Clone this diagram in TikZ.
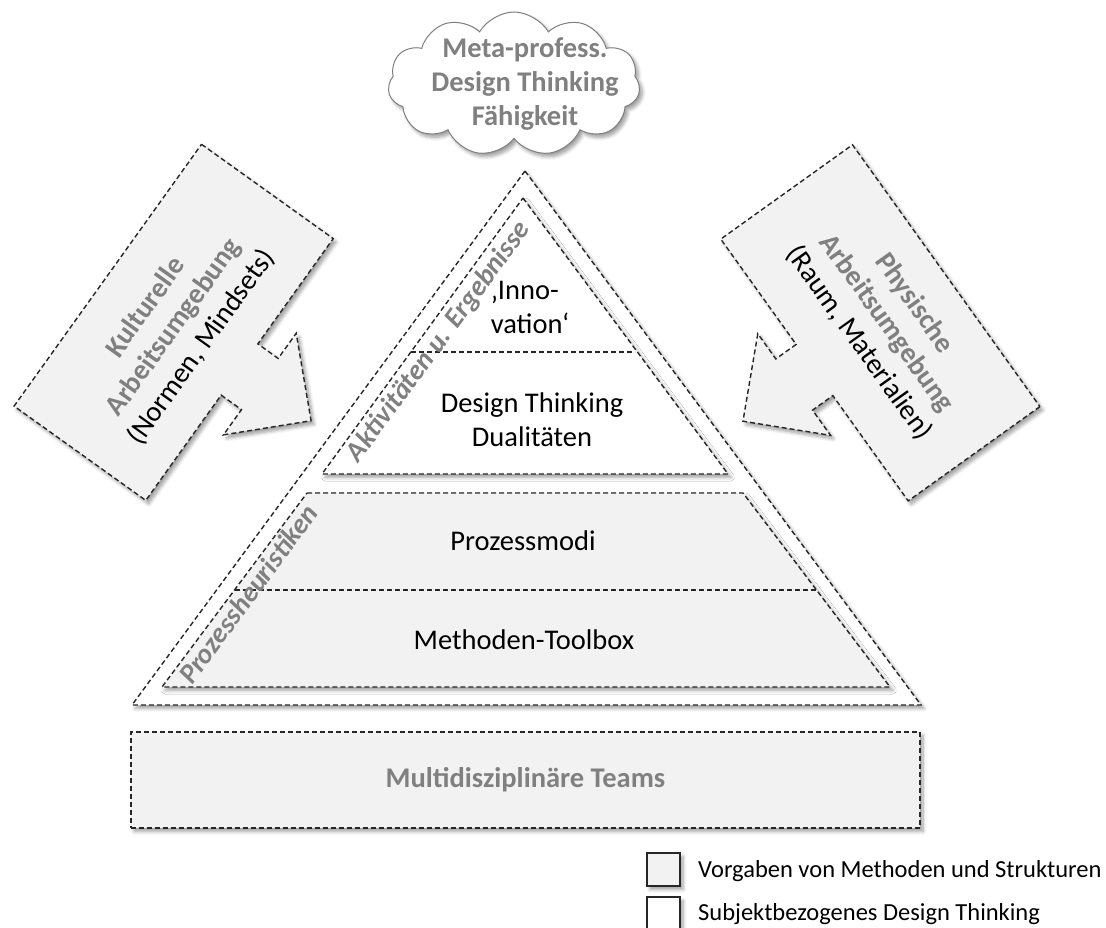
\documentclass[tikz,border=0pt]{standalone}
\usepackage{fontspec}
\setmainfont{Carlito}
\usetikzlibrary{shapes.symbols,shadows.blur}
\definecolor{boxgray}{HTML}{F2F2F2}
\definecolor{labelgray}{HTML}{808080}
\definecolor{edgegray}{HTML}{262626}
\definecolor{cloudedge}{HTML}{7F7F7F}
\begin{document}
\begin{tikzpicture}[x=1pt,y=-1pt,
  dashline/.style={draw=edgegray, line width=1.4pt, dash pattern=on 5pt off 3pt},
  softshadow/.style={blur shadow={shadow xshift=3pt, shadow yshift=-3.5pt,
      shadow blur radius=3.5pt, shadow blur steps=6, shadow opacity=38}},
  bigtext/.style={font=\fontsize{28.5}{34}\selectfont, align=center, inner sep=0pt},
  graytitle/.style={font=\fontsize{28.5}{34}\selectfont\bfseries, text=labelgray,
      align=center, inner sep=0pt},
  edgelabel/.style={font=\fontsize{28}{34}\selectfont\bfseries\itshape, text=labelgray,
      inner sep=0pt},
  legendbox/.style={draw=edgegray, line width=1.1pt, minimum size=33pt, inner sep=0pt,
      softshadow},
  legendtext/.style={font=\fontsize{24.5}{29}\selectfont, anchor=base west, inner sep=0pt}
]
\useasboundingbox (0,0) rectangle (1106,928);
\clip (0,0) rectangle (1106,928);

% cloud at the top
\node[cloud, cloud puffs=11, cloud puff arc=120, aspect=1.8, draw=cloudedge,
      line width=1pt, fill=white, minimum width=252pt, minimum height=144pt,
      softshadow] (cloud) at (514,84) {};
\node[graytitle] (cloudtext) at (525,84) {Meta-profess.\\Design Thinking\\Fähigkeit};

% left callout arrow
\begin{scope}[shift={(239.5,369.5)}, rotate=-35.6]
  \draw[dashline, fill=boxgray, softshadow]
    (-162,-161) -- (0,-161) -- (0,-31.5) -- (25,-31.5) -- (25,-62.5) -- (88,0)
    -- (25,62.5) -- (25,31.5) -- (0,31.5) -- (0,161) -- (-162,161) -- cycle;
  \node[graytitle, rotate=54.4] (kultur) at (-78,4)
    {Kulturelle\\Arbeitsumgebung\\\textcolor{black}{\mdseries(Normen, Mindsets)}};
\end{scope}

% right callout arrow
\begin{scope}[shift={(814.5,370)}, rotate=-144.4]
  \draw[dashline, fill=boxgray, softshadow]
    (-162,-161) -- (0,-161) -- (0,-31.5) -- (25,-31.5) -- (25,-62.5) -- (88,0)
    -- (25,62.5) -- (25,31.5) -- (0,31.5) -- (0,161) -- (-162,161) -- cycle;
  \node[graytitle, rotate=-54.4] (physisch) at (-86,-4)
    {Physische\\Arbeitsumgebung\\\textcolor{black}{\mdseries(Raum, Materialien)}};
\end{scope}

% pyramid
\draw[dashline, fill=white, softshadow] (525,171) -- (921,705) -- (132,705) -- cycle;
\draw[dashline, fill=white, softshadow] (523,198) -- (728,474) -- (322,474) -- cycle;
\draw[dashline] (411,352) -- (635,352);
\draw[dashline, fill=boxgray, softshadow] (307,493) -- (743,493) -- (890,687) -- (162,687) -- cycle;
\draw[dashline] (234.5,590) -- (816.5,590);

\node[bigtext, align=left] (innovation) at (530,307) {‚Inno-\\vation‘};
\node[bigtext] (dualitaeten) at (532,420) {Design Thinking\\Dualitäten};
\node[bigtext] (prozessmodi) at (523,541) {Prozessmodi};
\node[bigtext] (toolbox) at (524,640) {Methoden-Toolbox};

\node[edgelabel, rotate=53.6] (aktiv) at (439,342) {Aktivitäten u. Ergebnisse};
\node[edgelabel, rotate=53.6] (heuristik) at (248,594) {Prozessheuristiken};

% base box
\node[dashline, fill=boxgray, softshadow, minimum width=789pt, minimum height=96pt,
      graytitle] (teams) at (525.5,780) {Multidisziplinäre Teams};

% legend
\node[legendbox, fill=boxgray] (legendA) at (663.5,869.5) {};
\node[legendbox, fill=white] (legendB) at (663.5,913.5) {};
\node[legendtext] (legendAtext) at (698,877) {Vorgaben von Methoden und Strukturen};
\node[legendtext] (legendBtext) at (698,920) {Subjektbezogenes Design Thinking};
\end{tikzpicture}
\end{document}
